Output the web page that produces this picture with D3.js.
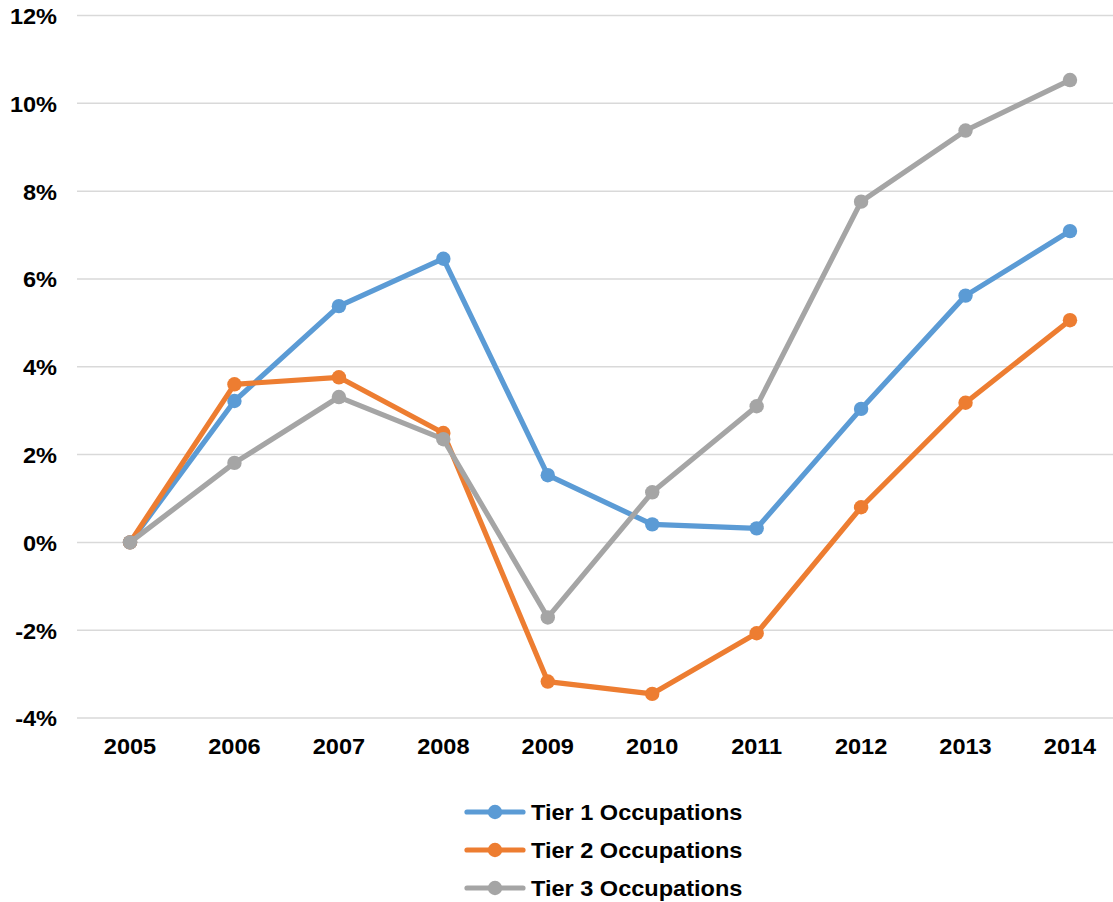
<!DOCTYPE html>
<html>
<head>
<meta charset="utf-8">
<script src="https://cdn.jsdelivr.net/npm/d3@7"></script>
<style>
  html, body { margin: 0; padding: 0; background: #fff; }
  svg { display: block; }
  text { font-family: "Liberation Sans", Arial, sans-serif; font-weight: bold; fill: #000; }
</style>
</head>
<body>
<svg id="chart" width="1113" height="902"></svg>
<script>
// Employment change relative to 2005, by occupation tier (percent)
const years = ["2005", "2006", "2007", "2008", "2009", "2010", "2011", "2012", "2013", "2014"];
const tier1 = [0, 3.22, 5.38, 6.46, 1.53, 0.41, 0.32, 3.04, 5.62, 7.09];
const tier2 = [0, 3.60, 3.76, 2.49, -3.17, -3.45, -2.07, 0.80, 3.18, 5.06];
const tier3 = [0, 1.81, 3.31, 2.35, -1.71, 1.14, 3.10, 7.76, 9.38, 10.53];
const seriesNames = ["Tier 1 Occupations", "Tier 2 Occupations", "Tier 3 Occupations"];
const seriesColors = ["#5B9BD5", "#ED7D31", "#A5A5A5"];
const yTicks = [-4, -2, 0, 2, 4, 6, 8, 10, 12];

const series = [tier1, tier2, tier3].map((vals, i) => ({
  name: seriesNames[i], color: seriesColors[i], values: vals
}));

const FONT = 22;
const STRETCH = "scale(1.07,1)";
const R = 7.2;

const svg = d3.select("#chart");

const x = d3.scaleBand().domain(years).range([77.8, 1122.2]);
const xc = d => x(d) + x.bandwidth() / 2;
const y = d3.scaleLinear().domain([-4, 12]).range([718, 15.5]);

// Horizontal gridlines
svg.append("g")
  .selectAll("line")
  .data(yTicks)
  .join("line")
  .attr("x1", 77).attr("x2", 1113)
  .attr("y1", d => y(d)).attr("y2", d => y(d))
  .attr("stroke", "#D9D9D9").attr("stroke-width", 1.5);

function styleTicks(g) {
  g.select(".domain").remove();
  g.selectAll("text")
    .attr("font-size", FONT).attr("dy", "0.36em")
    .attr("transform", STRETCH)
    .style("font-family", "'Liberation Sans', Arial, sans-serif")
    .style("font-weight", "bold").attr("fill", "#000");
}

// Y axis labels
const yAxis = d3.axisLeft(y).tickValues(yTicks).tickFormat(d => d + "%").tickSize(0).tickPadding(0);
svg.append("g").attr("transform", "translate(57,0)").call(yAxis).call(styleTicks);

// X axis labels
const xAxis = d3.axisBottom(x).tickSize(0).tickPadding(0);
svg.append("g").attr("transform", "translate(0,746)").call(xAxis).call(styleTicks);

// Lines and markers
const line = d3.line().x((d, i) => xc(years[i])).y(d => y(d));

const sg = svg.append("g").selectAll("g").data(series).join("g");
sg.append("path")
  .attr("d", d => line(d.values))
  .attr("fill", "none")
  .attr("stroke", d => d.color)
  .attr("stroke-width", 5.2)
  .attr("stroke-linejoin", "round");
sg.selectAll("circle")
  .data(d => d.values.map((v, i) => ({ v, i, color: d.color })))
  .join("circle")
  .attr("cx", d => xc(years[d.i]))
  .attr("cy", d => y(d.v))
  .attr("r", R)
  .attr("fill", d => d.color);

// Legend
const legend = svg.append("g").selectAll("g").data(series).join("g")
  .attr("transform", (d, i) => `translate(467,${812 + i * 38})`);
legend.append("line")
  .attr("x1", 0).attr("x2", 56).attr("y1", 0).attr("y2", 0)
  .attr("stroke", d => d.color).attr("stroke-width", 5.2).attr("stroke-linecap", "round");
legend.append("circle")
  .attr("cx", 28).attr("cy", 0).attr("r", R).attr("fill", d => d.color);
legend.append("text")
  .attr("transform", "translate(64,0) " + STRETCH)
  .attr("dy", "0.36em")
  .attr("font-size", FONT)
  .text(d => d.name);
</script>
</body>
</html>
